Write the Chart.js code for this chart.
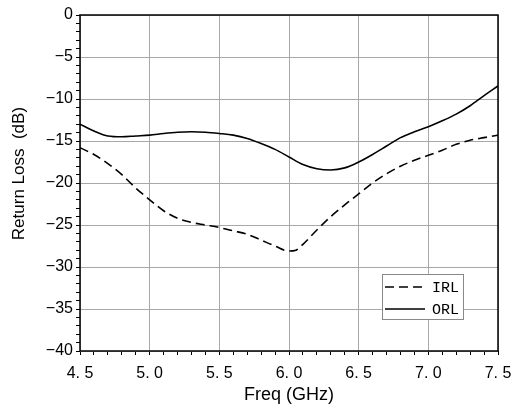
<!DOCTYPE html>
<html lang="en">
<head>
    <meta charset="UTF-8">
    <title>Return Loss</title>
    <style>
        body {
            margin: 0;
            background: white;
        }
        #wrap {
            width: 514px;
            height: 410px;
        }
    </style>
</head>
<body>
    <div id="wrap"><canvas id="rlChart" width="514" height="410"></canvas></div>

    <script src="https://cdn.jsdelivr.net/npm/chart.js"></script>

    <script>
        // Data
        const irlFreq = [4.5, 4.6, 4.7, 4.8, 4.9, 5.0, 5.1, 5.2, 5.3, 5.4, 5.5, 5.6, 5.7, 5.8, 5.9, 6.0, 6.05, 6.1, 6.2, 6.3, 6.4, 6.5, 6.6, 6.7, 6.8, 6.9, 7.0, 7.1, 7.2, 7.3, 7.4, 7.5];
        const irlValues = [-15.8, -16.6, -17.7, -19.0, -20.6, -22.0, -23.3, -24.2, -24.7, -25.0, -25.3, -25.7, -26.1, -26.8, -27.5, -28.1, -28.0, -27.3, -25.6, -24.0, -22.6, -21.3, -20.0, -18.9, -18.0, -17.3, -16.7, -16.1, -15.4, -14.9, -14.6, -14.3];

        const orlFreq = [4.5, 4.6, 4.7, 4.8, 4.9, 5.0, 5.1, 5.2, 5.3, 5.4, 5.5, 5.6, 5.7, 5.8, 5.9, 6.0, 6.1, 6.2, 6.3, 6.4, 6.5, 6.6, 6.7, 6.8, 6.9, 7.0, 7.1, 7.2, 7.3, 7.4, 7.5];
        const orlValues = [-13.0, -13.8, -14.4, -14.5, -14.4, -14.3, -14.1, -13.95, -13.9, -13.95, -14.1, -14.3, -14.7, -15.3, -16.0, -16.9, -17.8, -18.3, -18.45, -18.2, -17.5, -16.6, -15.6, -14.6, -13.9, -13.3, -12.6, -11.8, -10.8, -9.6, -8.45];

        const xTickLabels = ['4. 5', '5. 0', '5. 5', '6. 0', '6. 5', '7. 0', '7. 5'];
        const yTickLabels = ['\u221240', '\u221235', '\u221230', '\u221225', '\u221220', '\u221215', '\u221210', '\u22125', '0'];
        const seriesNames = ['IRL', 'ORL'];

        const toPoints = (xs, ys) => xs.map((x, i) => ({ x: x, y: ys[i] }));
        const isMajor = (v, step) => Math.abs(v / step - Math.round(v / step)) < 1e-6;

        // legend inside the plot, lower right
        const boxLegend = {
            id: 'boxLegend',
            afterDraw(chart) {
                const ctx = chart.ctx;
                const left = 382, top = 274, w = 81, h = 45;
                ctx.save();
                ctx.fillStyle = 'white';
                ctx.fillRect(left, top, w, h);
                ctx.strokeStyle = '#888';
                ctx.lineWidth = 1;
                ctx.strokeRect(left + 0.5, top + 0.5, w, h);
                ctx.strokeStyle = 'black';
                ctx.lineWidth = 1.6;
                ctx.font = '15px "Liberation Mono"';
                ctx.fillStyle = 'black';
                ctx.textBaseline = 'middle';
                chart.data.datasets.forEach((ds, i) => {
                    const y = top + 13 + i * 22;
                    ctx.setLineDash(ds.borderDash || []);
                    ctx.beginPath();
                    ctx.moveTo(left + 3, y);
                    ctx.lineTo(left + 43, y);
                    ctx.stroke();
                    ctx.fillText(ds.label, left + 50, y + 1);
                });
                ctx.restore();
            }
        };

        // black frame around the plot area
        const frame = {
            id: 'frame',
            afterDatasetsDraw(chart) {
                const a = chart.chartArea;
                const ctx = chart.ctx;
                ctx.save();
                ctx.strokeStyle = 'black';
                ctx.lineWidth = 1.5;
                ctx.strokeRect(a.left, a.top, a.right - a.left, a.bottom - a.top);
                ctx.restore();
            }
        };

        const ctx = document.getElementById('rlChart').getContext('2d');
        new Chart(ctx, {
            type: 'line',
            data: {
                datasets: [{
                    label: seriesNames[0],
                    data: toPoints(irlFreq, irlValues),
                    borderColor: 'black',
                    borderWidth: 1.6,
                    borderDash: [9, 5],
                    pointRadius: 0,
                    cubicInterpolationMode: 'monotone',
                    fill: false
                }, {
                    label: seriesNames[1],
                    data: toPoints(orlFreq, orlValues),
                    borderColor: 'black',
                    borderWidth: 1.6,
                    pointRadius: 0,
                    cubicInterpolationMode: 'monotone',
                    fill: false
                }]
            },
            options: {
                responsive: false,
                animation: false,
                devicePixelRatio: 1,
                layout: {
                    padding: { top: 15, right: 16, left: 0, bottom: 0 }
                },
                plugins: {
                    legend: { display: false },
                    tooltip: { enabled: false }
                },
                scales: {
                    x: {
                        type: 'linear',
                        min: 4.5,
                        max: 7.5,
                        afterBuildTicks(scale) {
                            const t = [];
                            for (let i = 0; i <= 30; i++) t.push({ value: 4.5 + i * 0.1 });
                            scale.ticks = t;
                        },
                        afterFit(scale) {
                            scale.height = 59;
                            scale.paddingLeft = 0;
                            scale.paddingRight = 0;
                        },
                        border: { display: false },
                        grid: {
                            color: c => isMajor(c.tick.value - 4.5, 0.5) ? '#a8a8a8' : 'rgba(0,0,0,0)',
                            tickColor: 'black',
                            tickLength: 4,
                            lineWidth: 1
                        },
                        ticks: {
                            autoSkip: false,
                            maxRotation: 0,
                            color: 'black',
                            padding: 9,
                            font: { family: 'Liberation Sans', size: 16 },
                            callback: function (v, i) {
                                return i % 5 === 0 ? xTickLabels[i / 5] : '';
                            }
                        },
                        title: {
                            display: true,
                            text: 'Freq (GHz)',
                            color: 'black',
                            font: { family: 'Liberation Sans', size: 18 },
                            padding: { top: 4, bottom: 4 }
                        }
                    },
                    y: {
                        min: -40,
                        max: 0,
                        afterBuildTicks(scale) {
                            const t = [];
                            for (let v = -40; v <= 0; v++) t.push({ value: v });
                            scale.ticks = t;
                        },
                        afterFit(scale) { scale.width = 80; },
                        border: { display: false },
                        grid: {
                            color: c => isMajor(c.tick.value, 5) ? '#a8a8a8' : 'rgba(0,0,0,0)',
                            tickColor: 'black',
                            tickLength: 4,
                            lineWidth: 1
                        },
                        ticks: {
                            autoSkip: false,
                            color: 'black',
                            padding: 3,
                            font: { family: 'Liberation Sans', size: 16 },
                            callback: function (v, i) {
                                return i % 5 === 0 ? yTickLabels[i / 5] : '';
                            }
                        },
                        title: {
                            display: true,
                            text: '    Return Loss  (dB)',
                            color: 'black',
                            font: { family: 'Liberation Sans', size: 17 },
                            padding: { top: 9, bottom: 4 }
                        }
                    }
                }
            },
            plugins: [frame, boxLegend]
        });
    </script>
</body>
</html>
